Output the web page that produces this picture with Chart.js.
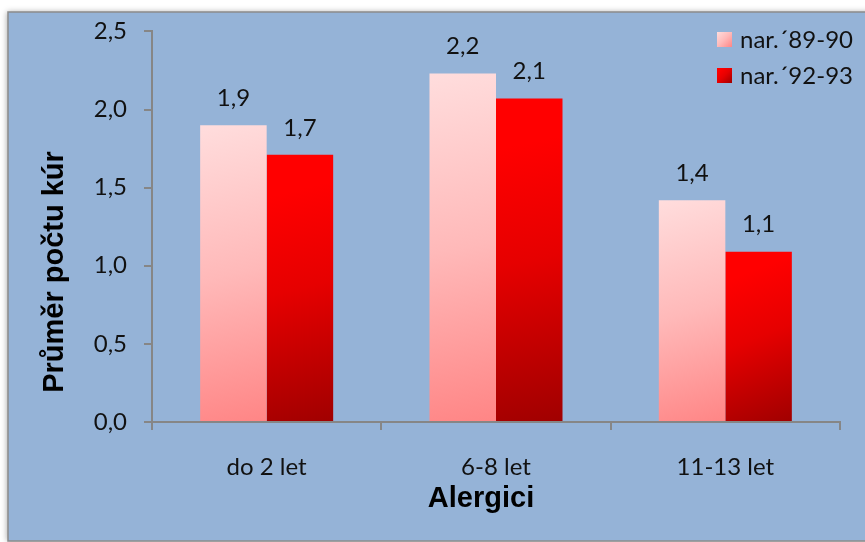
<!DOCTYPE html>
<html>
<head>
<meta charset="utf-8">
<script src="https://cdn.jsdelivr.net/npm/chart.js@4/dist/chart.umd.min.js"></script>
<style>
  html, body { margin: 0; padding: 0; background: #fff; }
  canvas { display: block; }
</style>
</head>
<body>
<canvas id="chart" width="865" height="542"></canvas>
<script>
// values
const categories = ['do 2 let', '6-8 let', '11-13 let'];
const seriesNames = ['nar.\u00b489-90', 'nar.\u00b492-93'];
const series8990 = [1.90, 2.23, 1.42];
const series9293 = [1.71, 2.07, 1.09];
const yTitle = 'Pr\u016fm\u011br po\u010dtu k\u00far';
const xTitle = 'Alergici';

const CAT_PCT = 0.58;
const PANEL = '#95B3D7';
const AXIS = '#868686';
const TXT = '#111';
const FONT = 'Lato, "Open Sans", sans-serif';

// gradient stops from top to bottom-right of each bar
const fills = [
    [[0, '#FFDDDD'], [0.5, '#FFB9B9'], [1, '#FF8585']],
    [[0, '#FF0000'], [0.15, '#FF0000'], [0.5, '#E60000'], [1, '#A00000']]
];

function fmt(v) {
    return v.toFixed(1).replace('.', ',');
}

function gradient(ctx, stops, x0, y0, x1, y1) {
    const g = ctx.createLinearGradient(x0, y0, x1, y1);
    stops.forEach(s => g.addColorStop(s[0], s[1]));
    return g;
}

function barFill(ctx) {
    const chart = ctx.chart;
    const sx = chart.scales.x, sy = chart.scales.y;
    const c = fills[ctx.datasetIndex] || fills[0];
    if (!sx || !sy || ctx.type !== 'data') return c[0][1];
    const barW = (sx.right - sx.left) / categories.length * CAT_PCT / 2;
    const xc = sx.getPixelForValue(ctx.dataIndex);
    const x0 = ctx.datasetIndex === 0 ? xc - barW : xc;
    const top = sy.getPixelForValue(ctx.raw);
    const base = sy.getPixelForValue(0);
    if (![barW, x0, top, base].every(Number.isFinite)) return c[0][1];
    return gradient(chart.ctx, c, x0, top, x0 + barW, base);
}

// blue panel with a thin grey frame
const panelPlugin = {
    id: 'panel',
    beforeDraw(chart) {
        const ctx = chart.ctx;
        ctx.save();
        ctx.fillStyle = '#fff';
        ctx.fillRect(0, 0, chart.width, chart.height);
        ctx.shadowColor = 'rgba(0,0,0,0.35)';
        ctx.shadowBlur = 6;
        ctx.shadowOffsetX = -1;
        ctx.fillStyle = PANEL;
        ctx.fillRect(8, 12, chart.width, chart.height - 13);
        ctx.shadowColor = 'transparent';
        ctx.strokeStyle = '#8c8c8c';
        ctx.lineWidth = 1.5;
        ctx.strokeRect(8, 12, chart.width, chart.height - 13);
        ctx.restore();
    }
};

// values above bars, titles and the legend
const textPlugin = {
    id: 'texts',
    afterDatasetsDraw(chart) {
        const ctx = chart.ctx;
        ctx.save();
        ctx.font = '24px ' + FONT;
        ctx.fillStyle = TXT;
        ctx.textAlign = 'center';
        ctx.textBaseline = 'middle';
        chart.data.datasets.forEach((ds, i) => {
            chart.getDatasetMeta(i).data.forEach((bar, j) => {
                ctx.fillText(fmt(ds.data[j]), bar.x, bar.y - 27);
            });
        });
        ctx.restore();
    },
    afterDraw(chart) {
        const ctx = chart.ctx;
        ctx.save();
        ctx.fillStyle = '#000';
        ctx.font = 'bold 29px "Liberation Sans", Arial, sans-serif';
        ctx.textAlign = 'center';
        ctx.textBaseline = 'middle';
        ctx.fillText(xTitle, 481, 499);
        ctx.translate(55, 272);
        ctx.rotate(-Math.PI / 2);
        ctx.fillText(yTitle, 0, 0);
        ctx.restore();

        // legend
        ctx.save();
        ctx.font = '24px ' + FONT;
        ctx.textAlign = 'left';
        ctx.textBaseline = 'middle';
        chart.data.datasets.forEach((ds, i) => {
            const bx = 717, by = 32 + i * 36, s = 15;
            ctx.fillStyle = gradient(ctx, fills[i], bx, by, bx + s, by + s);
            ctx.fillRect(bx, by, s, s);
            ctx.fillStyle = TXT;
            ctx.fillText(ds.label, 740, by + 8);
        });
        ctx.restore();
    }
};

new Chart(document.getElementById('chart'), {
    type: 'bar',
    data: {
        labels: categories,
        datasets: [
            { label: seriesNames[0], data: series8990, backgroundColor: barFill },
            { label: seriesNames[1], data: series9293, backgroundColor: barFill }
        ]
    },
    options: {
        responsive: false,
        animation: false,
        devicePixelRatio: 1,
        categoryPercentage: CAT_PCT,
        barPercentage: 1,
        layout: { padding: { top: 29, right: 25, left: 0, bottom: 0 } },
        plugins: { legend: { display: false }, tooltip: { enabled: false } },
        scales: {
            x: {
                afterFit: s => { s.height = 120; },
                grid: { display: true, drawOnChartArea: false, drawTicks: true, tickLength: 8, color: AXIS, lineWidth: 2, offset: true },
                border: { display: true, color: AXIS, width: 2 },
                ticks: { color: TXT, font: { size: 24, family: FONT }, padding: 23 }
            },
            y: {
                min: 0,
                max: 2.5,
                afterFit: s => { s.width = 152; },
                grid: { display: true, drawOnChartArea: false, drawTicks: true, tickLength: 8, color: AXIS, lineWidth: 2 },
                border: { display: true, color: AXIS, width: 2 },
                ticks: { stepSize: 0.5, color: TXT, font: { size: 24, family: FONT }, padding: 17, callback: v => fmt(v) }
            }
        }
    },
    plugins: [panelPlugin, textPlugin]
});
</script>
</body>
</html>
